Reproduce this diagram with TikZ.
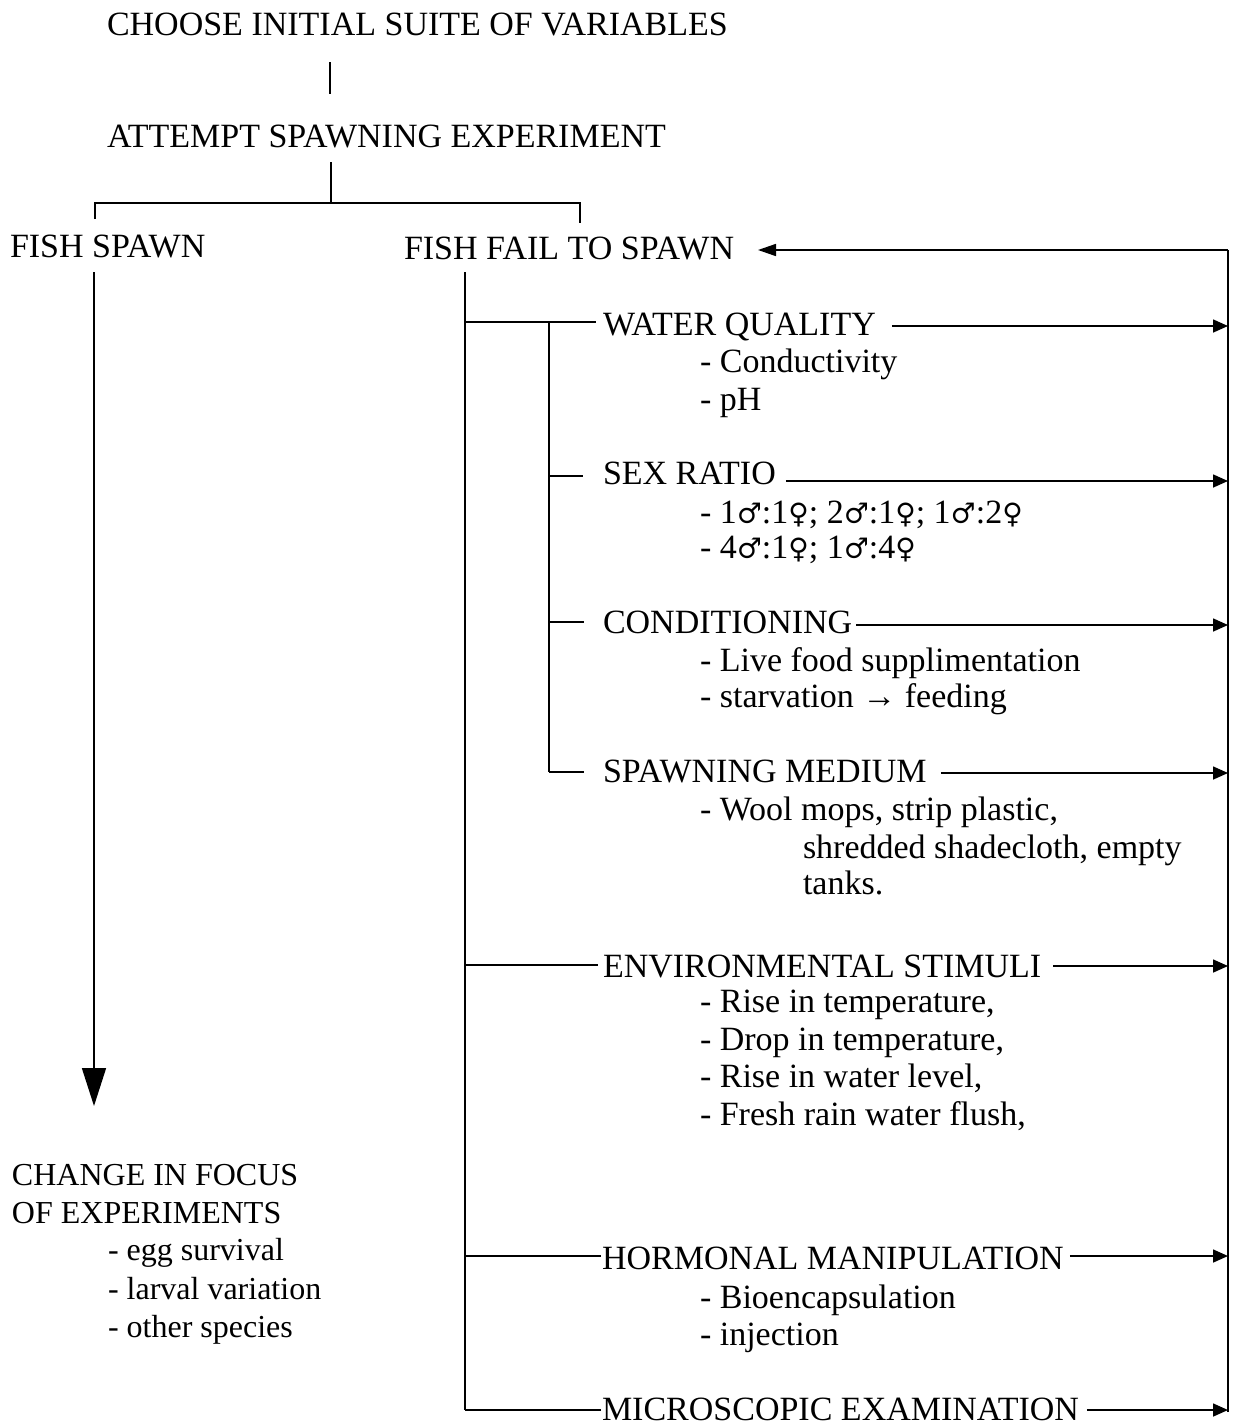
\documentclass[tikz,border=0pt]{standalone}
\usepackage{fontspec}
\setmainfont{Liberation Serif}
\newfontfamily\symfont{DejaVu Serif}
\newcommand{\ml}{{\symfont\fontsize{28}{34}\selectfont ♂}}
\newcommand{\fm}{{\symfont\fontsize{28}{34}\selectfont ♀}}
\usetikzlibrary{arrows.meta}
\begin{document}
\begin{tikzpicture}[x=1pt,y=-1pt,
  every node/.style={inner sep=0pt,outer sep=0pt,anchor=base west,font=\fontsize{34}{40}\selectfont},
  lefttext/.style={font=\fontsize{32}{38}\selectfont},
  ln/.style={line width=1.6pt},
  arr/.style={line width=1.6pt,-{Triangle[length=15pt,width=13pt]}},
  bigarr/.style={line width=1.6pt,-{Triangle[length=38pt,width=24pt]}}]
\useasboundingbox (0,0) rectangle (1235,1428);

% top
\node (choose) at (107,35) {CHOOSE INITIAL SUITE OF VARIABLES};
\node (attempt) at (107,147) {ATTEMPT SPAWNING EXPERIMENT};
\node (spawn) at (10,257) {FISH SPAWN};
\node (fail) at (404,259) {FISH FAIL TO SPAWN};

\coordinate (c1a) at (330,62);
\coordinate (c1b) at (330,94);
\draw[ln] (c1a) -- (c1b);
\coordinate (c2a) at (331,162);
\coordinate (c2b) at (331,203);
\coordinate (bl) at (95,203);
\coordinate (br) at (580,203);
\coordinate (blt) at (95,219);
\coordinate (brt) at (580,223);
\draw[ln] (c2a) -- (c2b);
\draw[ln] (blt) -- (bl) -- (br) -- (brt);

% left branch
\coordinate (sTop) at (94,272);
\coordinate (sBot) at (94,1106);
\draw[bigarr] (sTop) -- (sBot);
\node[lefttext] (change) at (12,1185) {CHANGE IN FOCUS};
\node[lefttext] (ofexp) at (12,1223) {OF EXPERIMENTS};
\node[lefttext] (egg) at (108,1260) {- egg survival};
\node[lefttext] (larval) at (108,1299) {- larval variation};
\node[lefttext] (other) at (108,1337) {- other species};

% right rail and feedback
\coordinate (railTop) at (1228,250);
\coordinate (railBot) at (1228,1412);
\coordinate (failTip) at (758,250);
\draw[ln] (railBot) -- (railTop);
\draw[line width=1.6pt,-{Triangle[length=18pt,width=12pt]}] (railTop) -- (failTip);

% main trunk
\coordinate (fTop) at (465,272);
\coordinate (fBot) at (465,1410);
\draw[ln] (fTop) -- (fBot);
\coordinate (inTop) at (549,322);
\coordinate (inBot) at (549,772);
\draw[ln] (inTop) -- (inBot);

% headings
\node (wq) at (603,335) {WATER QUALITY};
\node (wq1) at (700,372) {- Conductivity};
\node (wq2) at (700,410) {- pH};

\node (sr) at (603,484) {SEX RATIO};
\node (sr1) at (700,523) {- 1\ml:1\fm; 2\ml:1\fm; 1\ml:2\fm};
\node (sr2) at (700,558) {- 4\ml:1\fm; 1\ml:4\fm};

\node (co) at (603,633) {CONDITIONING};
\node (co1) at (700,671) {- Live food supplimentation};
\node (co2) at (700,707) {- starvation → feeding};

\node (sm) at (603,782) {SPAWNING MEDIUM};
\node (sm1) at (700,820) {- Wool mops, strip plastic,};
\node (sm2) at (803,858) {shredded shadecloth, empty};
\node (sm3) at (803,894) {tanks.};

\node (es) at (603,977) {ENVIRONMENTAL STIMULI};
\node (es1) at (700,1012) {- Rise in temperature,};
\node (es2) at (700,1050) {- Drop in temperature,};
\node (es3) at (700,1087) {- Rise in water level,};
\node (es4) at (700,1125) {- Fresh rain water flush,};

\node (hm) at (602,1269) {HORMONAL MANIPULATION};
\node (hm1) at (700,1308) {- Bioencapsulation};
\node (hm2) at (700,1345) {- injection};

\node (me) at (602,1420) {MICROSCOPIC EXAMINATION};

% branch ticks from trunk
\coordinate (bWQ) at (465,322);
\coordinate (eWQ) at (596,322);
\draw[ln] (bWQ) -- (eWQ);
\coordinate (bSR) at (549,476);
\coordinate (eSR) at (583,476);
\draw[ln] (bSR) -- (eSR);
\coordinate (bCO) at (549,622);
\coordinate (eCO) at (584,622);
\draw[ln] (bCO) -- (eCO);
\coordinate (eSM) at (584,772);
\draw[ln] (inBot) -- (eSM);
\coordinate (bES) at (465,965);
\coordinate (eES) at (598,965);
\draw[ln] (bES) -- (eES);
\coordinate (bHM) at (465,1256);
\coordinate (eHM) at (601,1256);
\draw[ln] (bHM) -- (eHM);
\coordinate (eME) at (601,1410);
\draw[ln] (fBot) -- (eME);

% arrows to rail
\coordinate (rWQ) at (1228,326);
\coordinate (rSR) at (1228,481);
\coordinate (rCO) at (1228,625);
\coordinate (rSM) at (1228,773);
\coordinate (rES) at (1228,966);
\coordinate (rHM) at (1228,1256);
\coordinate (rME) at (1228,1410);
\draw[arr] ([xshift=16pt]wq.east |- rWQ) -- (rWQ);
\draw[arr] ([xshift=10pt]sr.east |- rSR) -- (rSR);
\draw[arr] ([xshift=4pt]co.east |- rCO) -- (rCO);
\draw[arr] ([xshift=14pt]sm.east |- rSM) -- (rSM);
\draw[arr] ([xshift=12pt]es.east |- rES) -- (rES);
\draw[arr] ([xshift=6pt]hm.east |- rHM) -- (rHM);
\draw[arr] ([xshift=8pt]me.east |- rME) -- (rME);
\end{tikzpicture}
\end{document}
